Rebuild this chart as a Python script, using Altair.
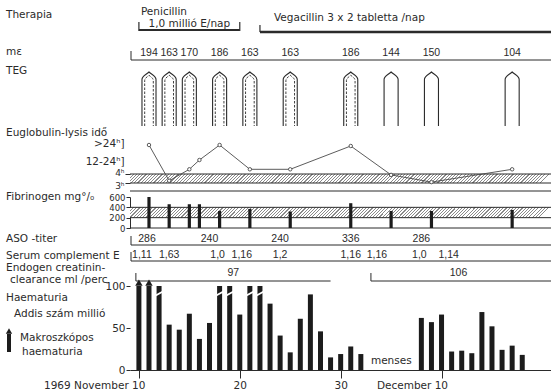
import altair as alt
import pandas as pd

# ---------------------------------------------------------------------------
# Data  (day numbers counted from 1 November 1969, so 40 = 10 December)
# ---------------------------------------------------------------------------
penicillin_days = [10, 20]
vegacillin_days = [22, 51]

teg_days = [11, 13, 15, 18, 21, 25, 31, 35, 39, 47]
teg_me = [194, 163, 170, 186, 163, 163, 186, 144, 150, 104]
teg_double = [True, True, True, True, True, True, True, False, False, False]

eug_days = [11, 13, 15, 16, 18, 21, 25, 31, 35, 39, 47]
eug_hours = [33, 3.25, 8.7, 18, 33, 8.7, 8.7, 32, 3.9, 3.1, 8.7]

fib_days = [11, 13, 15, 16, 18, 21, 25, 31, 35, 39, 47]
fib_mg = [600, 460, 460, 460, 330, 370, 320, 480, 330, 330, 350]

aso_days = [10.8, 17, 24, 31, 38]
aso_titer = ["286", "240", "240", "336", "286"]

serum_days = [10.3, 13, 17.8, 20.2, 24, 31, 33.6, 37.8, 40.7]
serum_e = ["1,11", "1,63", "1,0", "1,16", "1,2", "1,16", "1,16", "1,0", "1,14"]

creat_start = [9.7, 33]
creat_end = [29, 51]
creat_value = ["97", "106"]

hem_days = list(range(10, 33)) + list(range(38, 49))
hem_vals = [100, 100, 100, 54, 48, 67, 37, 56, 100, 100, 66, 100, 100, 79, 41,
            21, 61, 90, 46, 15, 19, 28, 19,
            62, 57, 66, 22, 23, 20, 69, 52, 24, 29, 18]
# "M": macroscopic haematuria, ">": above 100 million (bar cut off)
hem_flag = ["M", "M", ">", "", "", "", "", "", ">", ">", "", ">", ">", "", "",
            "", "", "", "", "", "", "", "",
            "", "", "", "", "", "", "", "", "", "", ""]

x_ticks = [10, 20, 30, 40]

left_labels = ["Therapia", "mε", "TEG", "Euglobulin-lysis idő", "Fibrinogen mg°/₀",
               "ASO -titer", "Serum complement E", "Endogen creatinin-",
               "clearance ml /perc", "Haematuria", "Addis szám millió",
               "Makroszkópos", "haematuria"]

# ---------------------------------------------------------------------------
# Layout / style
# ---------------------------------------------------------------------------
W, H = 421, 370
PAD_LEFT = 130
FONT = "DejaVu Sans"
NUM_FONT = "Liberation Sans"
INK = "#2b2b2b"
BAR = "#1c1c1c"
FS = 10.5

left_x = [6, 6, 6, 6, 6, 6, 6, 6, 10, 6, 14, 20, 22]
left_y = [15, 52, 71, 133, 197, 239, 256, 268, 280, 298, 314, 338, 352]

xs = alt.Scale(domain=[9.613, 50.355], nice=False, zero=False)

# one shared x axis definition, used by every layer so that the merged axis
# keeps these settings
x_axis = alt.Axis(
    values=x_ticks, title=None, grid=False, tickSize=8, labelPadding=2,
    labelFontSize=FS, domain=True, labelOverlap=False,
    labelExpr=("datum.value == 10 ? '1969 November 10' : "
               "datum.value == 40 ? 'December 10' : datum.label"),
    labelAlign={"condition": {"test": "datum.value == 10 || datum.value == 40",
                              "value": "right"}, "value": "center"},
    labelOffset={"condition": {"test": "datum.value == 10 || datum.value == 40",
                               "value": 6}, "value": 0},
)


def X(field="day"):
    return alt.X(f"{field}:Q", scale=xs, axis=x_axis)


def hatch(w, h, period=3.2, ink="#8a8a8a", paper="#ffffff", frac=0.36):
    """Diagonal '////' hatching as a striped linear gradient."""
    n = int(round(w / period))
    stops = []
    for i in range(n):
        a, b, c = i / n, (i + frac) / n, (i + 1) / n
        stops += [{"offset": a, "color": ink}, {"offset": b, "color": ink},
                  {"offset": b, "color": paper}, {"offset": c, "color": paper}]
    return {"gradient": "linear", "x1": 0, "y1": 0, "x2": 1, "y2": h / w,
            "stops": stops}


one = pd.DataFrame({"k": [0]})
layers = []

# ---------------------------------------------------------------------------
# Left-hand row labels
# ---------------------------------------------------------------------------
for txt, lx, ly in zip(left_labels, left_x, left_y):
    layers.append(alt.Chart(one).mark_text(
        font=FONT, fontSize=FS, color=INK, align="left", baseline="middle"
    ).encode(x=alt.value(lx - PAD_LEFT), y=alt.value(ly), text=alt.value(txt)))

# arrow symbol in front of "Makroszkópos haematuria"
layers.append(alt.Chart(one).mark_rule(color=BAR, strokeWidth=4).encode(
    x=alt.value(9 - PAD_LEFT), y=alt.value(334), y2=alt.value(352)))
layers.append(alt.Chart(one).mark_point(
    shape="triangle-up", filled=True, color=BAR, size=40, opacity=1
).encode(x=alt.value(9 - PAD_LEFT), y=alt.value(331)))

# ---------------------------------------------------------------------------
# Therapy brackets
# ---------------------------------------------------------------------------
pen_df = pd.DataFrame({"day": [penicillin_days[0]], "end": [penicillin_days[1]]})
layers += [
    alt.Chart(pen_df).mark_rule(color=INK, strokeWidth=2).encode(
        x=X(), x2="end:Q", y=alt.value(30)),
    alt.Chart(pd.DataFrame({"day": penicillin_days})).mark_rule(
        color=INK, strokeWidth=1.2).encode(x=X(), y=alt.value(22), y2=alt.value(31)),
    alt.Chart(pen_df).mark_text(
        font=FONT, fontSize=FS, color=INK, align="left", baseline="middle", dx=2
    ).encode(x=X(), y=alt.value(12), text=alt.value("Penicillin")),
    alt.Chart(pd.DataFrame({"day": [sum(penicillin_days) / 2]})).mark_text(
        font=FONT, fontSize=FS, color=INK, align="center", baseline="middle"
    ).encode(x=X(), y=alt.value(24), text=alt.value("1,0 millió E/nap")),
]

veg_df = pd.DataFrame({"day": [vegacillin_days[0]], "end": [vegacillin_days[1]]})
layers += [
    alt.Chart(veg_df).mark_rule(color=INK, strokeWidth=2.5, clip=True).encode(
        x=X(), x2="end:Q", y=alt.value(32)),
    alt.Chart(veg_df).mark_rule(color=INK, strokeWidth=1.2).encode(
        x=X(), y=alt.value(25), y2=alt.value(32)),
    alt.Chart(veg_df).mark_text(
        font=FONT, fontSize=FS, color=INK, align="left", baseline="middle", dx=14
    ).encode(x=X(), y=alt.value(18),
             text=alt.value("Vegacillin  3 x 2 tabletta /nap")),
]


# ---------------------------------------------------------------------------
# Row brackets and row values
# ---------------------------------------------------------------------------
def row_bracket(ypix):
    return [
        alt.Chart(one).mark_rule(color=INK, strokeWidth=1).encode(
            x=alt.value(1), x2=alt.value(W), y=alt.value(ypix)),
        alt.Chart(one).mark_rule(color=INK, strokeWidth=1).encode(
            x=alt.value(1), y=alt.value(ypix - 9), y2=alt.value(ypix)),
    ]


def row_text(days, txt, ypix):
    df = pd.DataFrame({"day": days, "txt": txt})
    return alt.Chart(df).mark_text(
        font=NUM_FONT, fontSize=10.5, color=INK, align="center", baseline="middle"
    ).encode(x=X(), y=alt.value(ypix), text="txt:N")


layers += row_bracket(60)
layers.append(row_text(teg_days, [str(v) for v in teg_me], 53))

# ---------------------------------------------------------------------------
# TEG outlines
# ---------------------------------------------------------------------------
teg_df = pd.DataFrame({"day": teg_days, "double": teg_double})
outer_path = ("M -0.26 1 L -0.26 -0.72 C -0.26 -0.86 -0.1 -0.9 0 -1 "
              "C 0.1 -0.9 0.26 -0.86 0.26 -0.72 L 0.26 1")
inner_path = ("M -0.16 1 L -0.16 -0.68 C -0.16 -0.78 -0.06 -0.82 0 -0.88 "
              "C 0.06 -0.82 0.16 -0.78 0.16 -0.68 L 0.16 1")
layers += [
    alt.Chart(teg_df).mark_point(
        shape=outer_path, filled=False, stroke=INK, strokeWidth=1.1, size=2916,
        opacity=1
    ).encode(x=X(), y=alt.value(99)),
    alt.Chart(teg_df).transform_filter("datum.double").mark_point(
        shape=inner_path, filled=False, stroke=INK, strokeWidth=0.9, size=2916,
        strokeDash=[2.5, 1.5], opacity=1
    ).encode(x=X(), y=alt.value(99)),
]


# ---------------------------------------------------------------------------
# Euglobulin lysis time (piecewise hour scale)
# ---------------------------------------------------------------------------
def eug_scale():
    return alt.Scale(domain=[2, 3, 4, 12, 24, 36],
                     range=[191, 183, 174, 166, 154, 142], nice=False, zero=False)


eug_df = pd.DataFrame({"day": eug_days, "hours": eug_hours})
eug_axis = alt.Axis(
    orient="left", title=None, values=[35, 17, 4, 3], domain=False, grid=False,
    ticks=True, tickSize=5, labelPadding=1, labelOverlap=False,
    labelExpr=("datum.value == 35 ? '>24ʰ]' : datum.value == 17 ? '12-24ʰ]' : "
               "datum.value == 4 ? '4ʰ' : '3ʰ'"),
    labelFontSize={"condition": {"test": "datum.value > 4", "value": 10.5},
                   "value": 9},
    labelOffset={"condition": [{"test": "datum.value == 4", "value": -2},
                               {"test": "datum.value == 3", "value": 2}],
                 "value": 0},
    tickOpacity={"condition": {"test": "datum.value <= 4", "value": 1}, "value": 0},
)
layers += [
    alt.Chart(pd.DataFrame({"lo": [3], "hi": [4]})).mark_rect(
        fill=hatch(W, 9), strokeWidth=0
    ).encode(x=alt.value(0), x2=alt.value(W),
             y=alt.Y("hi:Q", scale=eug_scale(), axis=eug_axis), y2="lo:Q"),
    alt.Chart(pd.DataFrame({"h": [4, 3, 2]})).mark_rule(
        color=INK, strokeWidth=1).encode(
        x=alt.value(0), x2=alt.value(W), y=alt.Y("h:Q", scale=eug_scale(), axis=None)),
    alt.Chart(eug_df).mark_line(color="#4a4a4a", strokeWidth=0.9).encode(
        x=X(), y=alt.Y("hours:Q", scale=eug_scale(), axis=None)),
    alt.Chart(eug_df).mark_point(
        filled=True, fill="white", stroke="#4a4a4a", strokeWidth=0.9, size=12,
        opacity=1
    ).encode(x=X(), y=alt.Y("hours:Q", scale=eug_scale(), axis=None)),
]


# ---------------------------------------------------------------------------
# Fibrinogen
# ---------------------------------------------------------------------------
def fib_scale():
    return alt.Scale(domain=[0, 600], range=[228, 197], nice=False, zero=False)


fib_df = pd.DataFrame({"day": fib_days, "mg": fib_mg})
fib_axis = alt.Axis(orient="left", title=None, values=[0, 200, 400, 600],
                    grid=False, tickSize=4, labelPadding=1, labelFontSize=8.5,
                    domain=True, labelOverlap=False)
layers += [
    alt.Chart(pd.DataFrame({"lo": [200], "hi": [400]})).mark_rect(
        fill=hatch(W, 10.3), strokeWidth=0
    ).encode(x=alt.value(0), x2=alt.value(W),
             y=alt.Y("hi:Q", scale=fib_scale(), axis=fib_axis), y2="lo:Q"),
    alt.Chart(pd.DataFrame({"v": [400, 200, 0]})).mark_rule(
        color=INK, strokeWidth=1).encode(
        x=alt.value(0), x2=alt.value(W), y=alt.Y("v:Q", scale=fib_scale(), axis=None)),
    alt.Chart(fib_df).mark_bar(color=BAR, size=3.2).encode(
        x=X(), y=alt.Y("mg:Q", scale=fib_scale(), axis=None)),
]

# ---------------------------------------------------------------------------
# ASO, serum complement, creatinine clearance rows
# ---------------------------------------------------------------------------
layers += row_bracket(245)
layers.append(row_text(aso_days, aso_titer, 239))
layers += row_bracket(261)
layers.append(row_text(serum_days, serum_e, 255))

creat_df = pd.DataFrame({"day": creat_start, "end": creat_end, "txt": creat_value,
                         "mid": [(a + min(b, 50.355)) / 2
                                 for a, b in zip(creat_start, creat_end)]})
layers += [
    alt.Chart(creat_df).mark_rule(color=INK, strokeWidth=1, clip=True).encode(
        x=X(), x2="end:Q", y=alt.value(281)),
    alt.Chart(creat_df).mark_rule(color=INK, strokeWidth=1).encode(
        x=X(), y=alt.value(273), y2=alt.value(281)),
    alt.Chart(creat_df).mark_text(
        font=NUM_FONT, fontSize=10.5, color=INK, align="center", baseline="middle"
    ).encode(x=X("mid"), y=alt.value(273), text="txt:N"),
]


# ---------------------------------------------------------------------------
# Haematuria (Addis count, million)
# ---------------------------------------------------------------------------
def hem_scale():
    return alt.Scale(domain=[0, 100], range=[370, 286], nice=False, zero=False)


hem_df = pd.DataFrame({"day": hem_days, "val": hem_vals, "flag": hem_flag})
hem_axis = alt.Axis(orient="left", title=None, values=[0, 50, 100], grid=False,
                    tickSize=4, labelPadding=1, labelFontSize=FS, domain=False,
                    labelOverlap=False)
layers += [
    alt.Chart(hem_df).mark_bar(color=BAR, size=5).encode(
        x=X(), y=alt.Y("val:Q", scale=hem_scale(), axis=hem_axis)),
    alt.Chart(hem_df).transform_filter("datum.flag == 'M'").transform_calculate(
        tip="datum.val + 4"
    ).mark_point(shape="triangle-up", filled=True, color=BAR, size=55, opacity=1
    ).encode(x=X(), y=alt.Y("tip:Q", scale=hem_scale(), axis=None)),
    alt.Chart(hem_df).transform_filter("datum.flag == '>'").transform_calculate(
        cut="datum.val - 9"
    ).mark_point(shape="M -1 0.55 L 1 -0.55", filled=False, stroke="white",
                 strokeWidth=1.8, size=60, opacity=1
    ).encode(x=X(), y=alt.Y("cut:Q", scale=hem_scale(), axis=None)),
    alt.Chart(pd.DataFrame({"day": [33], "val": [11]})).mark_text(
        font=FONT, fontSize=FS, color=INK, align="left", baseline="middle"
    ).encode(x=X(), y=alt.Y("val:Q", scale=hem_scale(), axis=None),
             text=alt.value("menses")),
]

# ---------------------------------------------------------------------------
chart = alt.layer(*layers).resolve_scale(y="independent").properties(
    width=W, height=H,
    padding={"left": PAD_LEFT, "top": 0, "right": 0, "bottom": 21},
    autosize=alt.AutoSizeParams(type="none"),
    background="white",
).configure_view(stroke=None).configure_axis(
    labelFont=FONT, labelColor=INK, tickColor=INK, domainColor=INK,
    labelFontSize=FS, grid=False,
)

chart.save("out.html", embed_options={"renderer": "svg", "actions": False})
